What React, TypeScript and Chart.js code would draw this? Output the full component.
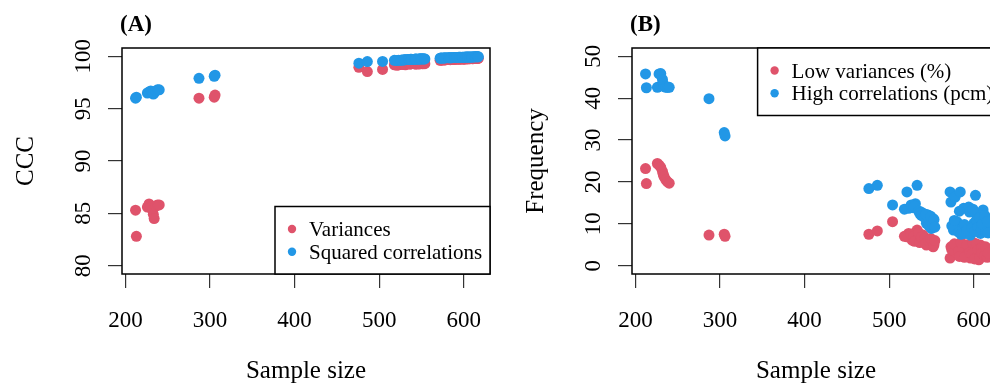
import React, { useEffect, useRef } from "react";
import { Chart, registerables } from "chart.js";

Chart.register(...registerables);

// ---- data ----
const sampleSize = [
  212, 213, 226, 228, 230, 232, 233, 234, 236, 238, 240,
  287, 305, 306,
  476, 486, 504,
  521, 523, 527, 531, 533, 537, 540, 544, 546, 548, 550, 552,
  518, 526, 529, 530, 535, 536, 538, 542, 543, 547, 549, 551, 553, 554,
  572, 573, 576, 578, 580, 584, 586, 588, 590, 594, 596, 600, 602, 604, 606, 608, 611, 612, 615, 617,
  574, 577, 582, 583, 585, 589, 592, 595, 598, 599, 601, 603, 605, 607, 609, 610, 613, 614, 616, 617,
];

const varianceCCC = [
  85.3, 82.8, 85.6, 85.9, 85.6, 85.3, 84.9, 84.5, 85.7, 85.8, 85.8,
  96.0, 96.1, 96.3,
  98.95, 98.55, 98.75,
  99.15, 99.2, 99.25, 99.2, 99.3, 99.28, 99.32, 99.25, 99.3, 99.28, 99.35, 99.3,
  99.2, 99.24, 99.22, 99.27, 99.3, 99.26, 99.3, 99.28, 99.33, 99.3, 99.32, 99.3, 99.34, 99.3,
  99.62, 99.65, 99.68, 99.66, 99.7, 99.68, 99.72, 99.7, 99.74, 99.72, 99.75, 99.76, 99.74, 99.78, 99.77, 99.8, 99.78, 99.8, 99.82, 99.8,
  99.64, 99.66, 99.7, 99.69, 99.71, 99.72, 99.73, 99.74, 99.75, 99.74, 99.76, 99.77, 99.78, 99.77, 99.79, 99.78, 99.8, 99.81, 99.82, 99.83,
];

const sqCorrCCC = [
  96.0, 96.1, 96.5, 96.6, 96.7, 96.6, 96.4, 96.5, 96.7, 96.8, 96.8,
  97.9, 98.1, 98.2,
  99.35, 99.5, 99.52,
  99.6, 99.62, 99.65, 99.68, 99.7, 99.72, 99.7, 99.75, 99.72, 99.76, 99.78, 99.75,
  99.62, 99.64, 99.66, 99.68, 99.7, 99.71, 99.72, 99.73, 99.74, 99.75, 99.77, 99.76, 99.78, 99.76,
  99.82, 99.85, 99.84, 99.86, 99.87, 99.88, 99.88, 99.9, 99.9, 99.91, 99.92, 99.92, 99.93, 99.94, 99.94, 99.95, 99.95, 99.96, 99.97, 99.96,
  99.84, 99.85, 99.87, 99.86, 99.88, 99.89, 99.9, 99.91, 99.91, 99.92, 99.92, 99.93, 99.93, 99.94, 99.95, 99.94, 99.96, 99.96, 99.97, 99.97,
];

const lowVarFreq = [
  23.2, 19.6, 24.4, 24.0, 23.5, 22.5, 21.8, 21.2, 20.5, 20.0, 19.7,
  7.3, 7.5, 7.0,
  7.5, 8.3, 10.5,
  6.9, 7.7, 6.1, 7.9, 8.5, 5.7, 7.3, 4.9, 6.3, 5.7, 5.2, 4.5,
  7.0, 7.5, 7.0, 5.8, 7.8, 5.5, 6.8, 6.5, 5.3, 6.0, 6.5, 5.8, 5.0, 6.0,
  1.8, 4.5, 4.0, 3.3, 4.9, 4.9, 2.5, 4.1, 3.0, 4.1, 1.8, 4.5, 3.5, 2.5, 1.4, 4.9, 3.0, 2.1, 3.7, 2.5,
  3.8, 5.2, 3.5, 2.2, 5.5, 2.0, 5.0, 3.2, 2.8, 5.5, 1.6, 5.2, 3.8, 2.0, 4.2, 3.0, 2.4, 4.5, 2.0, 3.0,
];

const highCorrFreq = [
  45.8, 42.5, 42.6, 45.8, 45.9, 44.5, 43.5, 42.8, 42.6, 42.6, 42.6,
  39.9, 31.8, 31.0,
  18.4, 19.2, 14.5,
  17.6, 13.7, 13.9, 14.8, 19.2, 12.9, 12.5, 10.1, 12.1, 10.5, 8.9, 11.2,
  13.5, 14.5, 13.8, 14.2, 13.0, 12.5, 12.0, 11.5, 12.3, 9.5, 11.8, 10.0, 11.0, 9.2,
  17.6, 15.2, 8.5, 16.4, 10.5, 17.6, 9.3, 13.7, 7.7, 14.0, 7.3, 10.1, 16.8, 12.1, 8.0, 7.7, 13.3, 10.9, 9.7, 8.8,
  9.5, 10.8, 8.0, 13.0, 7.5, 9.8, 8.5, 12.8, 9.0, 13.5, 8.2, 10.8, 9.2, 11.5, 8.6, 10.0, 12.0, 8.0, 10.5, 7.8,
];

const xTicks = [200, 300, 400, 500, 600];
const yTicksA = [80, 85, 90, 95, 100];
const yTicksB = [0, 10, 20, 30, 40, 50];

const RED = "#DF536B";
const BLUE = "#2297E6";
const FONT = '"Liberation Serif", "DejaVu Serif", serif';

const decorPlugin = {
  id: "decor",
  afterDraw(chart: any, _args: any, opts: any) {
    const { ctx, chartArea: a, scales } = chart;
    const x = scales.x;
    const y = scales.y;
    ctx.save();
    // box
    ctx.strokeStyle = "#000";
    ctx.lineWidth = 1.5;
    ctx.strokeRect(a.left, a.top, a.right - a.left, a.bottom - a.top);

    ctx.fillStyle = "#000";
    // x tick labels
    ctx.font = `23px ${FONT}`;
    ctx.textAlign = "center";
    ctx.textBaseline = "alphabetic";
    for (const t of opts.xTicks) {
      ctx.fillText(String(t), x.getPixelForValue(t), a.bottom + 53);
    }
    // y tick labels (rotated)
    for (const t of opts.yTicks) {
      ctx.save();
      ctx.translate(a.left - 32, y.getPixelForValue(t));
      ctx.rotate(-Math.PI / 2);
      ctx.fillText(String(t), 0, 0);
      ctx.restore();
    }
    // axis titles
    ctx.font = `25px ${FONT}`;
    ctx.fillText(opts.xTitle, (a.left + a.right) / 2, a.bottom + 104);
    ctx.save();
    ctx.translate(a.left - 89, (a.top + a.bottom) / 2);
    ctx.rotate(-Math.PI / 2);
    ctx.fillText(opts.yTitle, 0, 0);
    ctx.restore();
    // panel letter
    ctx.font = `bold 23px ${FONT}`;
    ctx.textAlign = "left";
    ctx.fillText(opts.letter, a.left - 2, 31);

    // legend
    const lw = opts.legendWidth;
    const lh = 67.5;
    const lx = a.right - lw;
    const ly = opts.legendPos === "topright" ? a.top : a.bottom - lh;
    ctx.fillStyle = "#fff";
    ctx.fillRect(lx, ly, lw, lh);
    ctx.strokeStyle = "#000";
    ctx.lineWidth = 1.5;
    ctx.strokeRect(lx, ly, lw, lh);
    ctx.font = `21px ${FONT}`;
    const rows = [ly + 22.5, ly + 45.3];
    chart.data.datasets.forEach((ds: any, i: number) => {
      ctx.fillStyle = ds.backgroundColor;
      ctx.beginPath();
      ctx.arc(lx + 17, rows[i], 4.2, 0, Math.PI * 2);
      ctx.fill();
      ctx.fillStyle = "#000";
      ctx.textAlign = "left";
      ctx.fillText(ds.label, lx + 34, rows[i] + 7);
    });
    ctx.restore();
  },
};

function makeConfig(p: any): any {
  const pts = (vals: number[]) => sampleSize.map((s, i) => ({ x: s, y: vals[i] }));
  return {
    type: "scatter",
    data: {
      datasets: [
        {
          label: p.labels[0],
          data: pts(p.red),
          backgroundColor: RED,
          borderColor: RED,
          pointRadius: 5.5,
          pointBorderWidth: 0,
          order: 2,
        },
        {
          label: p.labels[1],
          data: pts(p.blue),
          backgroundColor: BLUE,
          borderColor: BLUE,
          pointRadius: 5.5,
          pointBorderWidth: 0,
          order: 1,
        },
      ],
    },
    options: {
      responsive: false,
      animation: false,
      events: [],
      layout: { padding: { top: 48, right: 20, left: 0, bottom: 0 } },
      plugins: {
        legend: { display: false },
        tooltip: { enabled: false },
        title: { display: false },
        decor: {
          xTicks,
          yTicks: p.yTicks,
          xTitle: "Sample size",
          yTitle: p.yTitle,
          letter: p.letter,
          legendPos: p.legendPos,
          legendWidth: p.legendWidth,
        },
      },
      scales: {
        x: {
          type: "linear",
          min: 196,
          max: 631,
          afterBuildTicks: (s: any) => {
            s.ticks = xTicks.map((v) => ({ value: v }));
          },
          afterFit: (s: any) => {
            s.height = 113;
          },
          ticks: { display: false },
          border: { display: false },
          grid: {
            drawOnChartArea: false,
            drawTicks: true,
            tickLength: 14,
            color: "#333",
            lineWidth: 1.2,
          },
        },
        y: {
          type: "linear",
          min: p.yMin,
          max: p.yMax,
          afterBuildTicks: (s: any) => {
            s.ticks = p.yTicks.map((v: number) => ({ value: v }));
          },
          afterFit: (s: any) => {
            s.width = 122;
          },
          ticks: { display: false },
          border: { display: false },
          grid: {
            drawOnChartArea: false,
            drawTicks: true,
            tickLength: 14,
            color: "#333",
            lineWidth: 1.2,
          },
        },
      },
    },
    plugins: [decorPlugin],
  };
}

function Panel(props: { cfg: any; left: number }) {
  const ref = useRef<HTMLCanvasElement | null>(null);
  useEffect(() => {
    if (!ref.current) return;
    const chart = new Chart(ref.current, props.cfg);
    return () => chart.destroy();
  }, []);
  return (
    <canvas
      ref={ref}
      width={510}
      height={387}
      style={{ position: "absolute", left: props.left, top: 0, display: "block" }}
    />
  );
}

export default function App() {
  const cfgA = makeConfig({
    red: varianceCCC,
    blue: sqCorrCCC,
    labels: ["Variances", "Squared correlations"],
    yMin: 79.2,
    yMax: 100.8,
    yTicks: yTicksA,
    yTitle: "CCC",
    letter: "(A)",
    legendPos: "bottomright",
    legendWidth: 215,
  });
  const cfgB = makeConfig({
    red: lowVarFreq,
    blue: highCorrFreq,
    labels: ["Low variances (%)", "High correlations (pcm)"],
    yMin: -2,
    yMax: 52,
    yTicks: yTicksB,
    yTitle: "Frequency",
    letter: "(B)",
    legendPos: "topright",
    legendWidth: 242.4,
  });
  return (
    <div
      style={{
        position: "fixed",
        left: 0,
        top: 0,
        width: 990,
        height: 387,
        overflow: "hidden",
        background: "#fff",
      }}
    >
      <Panel cfg={cfgA} left={0} />
      <Panel cfg={cfgB} left={510} />
    </div>
  );
}
